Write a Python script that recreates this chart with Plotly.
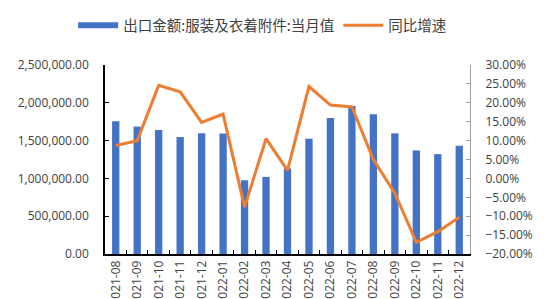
import plotly.graph_objects as go

months = ["2021-08", "2021-09", "2021-10", "2021-11", "2021-12", "2022-01", "2022-02",
          "2022-03", "2022-04", "2022-05", "2022-06", "2022-07", "2022-08", "2022-09",
          "2022-10", "2022-11", "2022-12"]
export_value = [1755000, 1685000, 1640000, 1547000, 1596000, 1594000, 975000,
                1020000, 1130000, 1525000, 1800000, 1959000, 1848000, 1596000,
                1370000, 1321000, 1432000]
yoy_growth = [8.7, 10.0, 24.6, 22.9, 14.8, 17.0, -7.6, 10.5, 2.1, 24.3, 19.4, 18.9,
              5.0, -3.9, -16.9, -14.1, -10.3]

bar_name = "出口金额:服装及衣着附件:当月值"
line_name = "同比增速"

cjk_font = "Noto Sans CJK SC, sans-serif"
num_font = "Open Sans, Noto Sans, sans-serif"

fig = go.Figure()
fig.add_trace(go.Bar(x=months, y=export_value, name=bar_name, showlegend=False,
                     marker=dict(color="#4472C4", line=dict(width=0))))
# legend entry for the bars (wide rectangle like the original)
fig.add_trace(go.Scatter(x=[None], y=[None], name=bar_name, mode="lines",
                         line=dict(color="#4472C4", width=6), legend="legend"))
fig.add_trace(go.Scatter(x=months, y=yoy_growth, name=line_name, yaxis="y2",
                         mode="lines", line=dict(color="#ED7D31", width=3),
                         legend="legend2"))

legend_style = dict(orientation="h", xref="container", xanchor="left",
                    yref="container", y=0.915, yanchor="middle",
                    font=dict(family=cjk_font, size=14.5, color="#404040"),
                    itemwidth=40, bgcolor="rgba(0,0,0,0)")

fig.update_layout(
    width=550, height=299,
    margin=dict(l=105, r=80, t=65, b=45),
    paper_bgcolor="white", plot_bgcolor="white",
    font=dict(family=num_font, size=12, color="#404040"),
    bargap=0.66,
    showlegend=True,
    legend=dict(x=0.133, **legend_style),
    legend2=dict(x=0.615, **legend_style),
    xaxis=dict(type="category", tickangle=-90, showline=True, linecolor="black",
               linewidth=1.5, ticks="inside", ticklen=4, tickcolor="black",
               tickson="boundaries", showgrid=False, automargin=False,
               tickfont=dict(size=12)),
    yaxis=dict(range=[0, 2500000], dtick=500000, tickformat=",.2f",
               showline=True, linecolor="black", linewidth=1.5, ticks="inside",
               ticklen=4, tickcolor="black", showgrid=False, zeroline=False,
               automargin=False, ticklabelstandoff=12,
               tickfont=dict(size=12, color="#404040")),
    yaxis2=dict(range=[-20, 30], dtick=5, tickformat=".2f", ticksuffix="%",
                overlaying="y", side="right", showline=True, linecolor="#a0a0a0",
                linewidth=1, ticks="inside", ticklen=4, tickcolor="#a0a0a0",
                showgrid=False, zeroline=False, automargin=False,
                ticklabelstandoff=12,
                tickfont=dict(size=12, color="#404040")),
)

fig.write_html("out.html")
